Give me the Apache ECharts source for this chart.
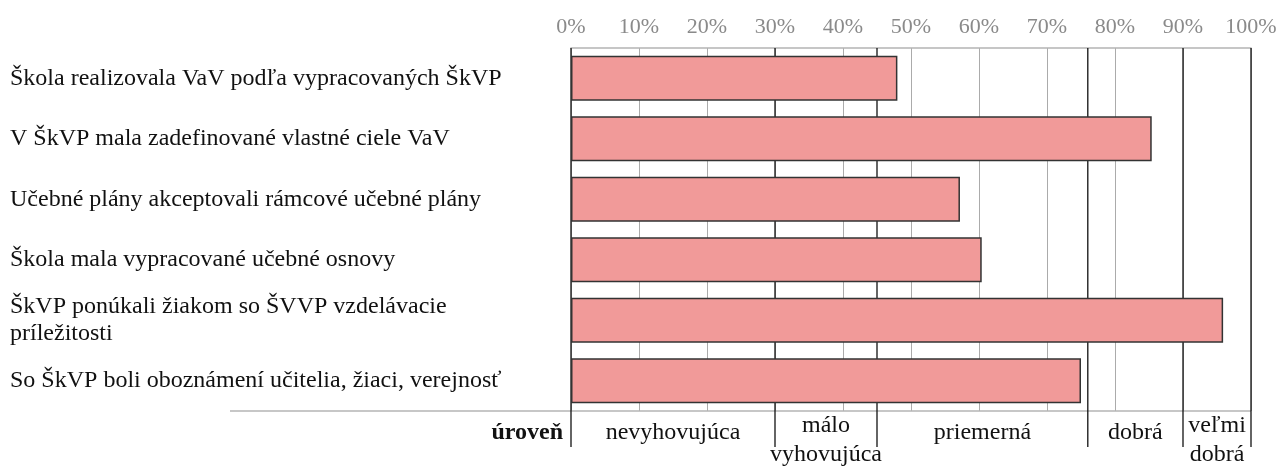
<!DOCTYPE html>
<html>
<head>
<meta charset="utf-8">
<script src="https://cdn.jsdelivr.net/npm/echarts@6/dist/echarts.min.js"></script>
<style>
  html, body { margin: 0; padding: 0; background: #fff; }
  #chart { width: 1280px; height: 466px; }
</style>
</head>
<body>
<div id="chart"></div>
<script>
// Criteria of the school programme (ŠkVP) and the share fulfilled, in %
const categories = [
  'Škola realizovala VaV podľa vypracovaných ŠkVP',
  'V ŠkVP mala zadefinované vlastné ciele VaV',
  'Učebné plány akceptovali rámcové učebné plány',
  'Škola mala vypracované učebné osnovy',
  'ŠkVP ponúkali žiakom so ŠVVP vzdelávacie\npríležitosti',
  'So ŠkVP boli oboznámení učitelia, žiaci, verejnosť'
];
const shares = [48, 85.4, 57.2, 60.4, 95.9, 75];

// Percentage scale of the top axis
const axisMin = 0;
const axisMax = 100;
const axisStep = 10;
const tickSuffix = '%';

// Rating levels: band boundaries (in %) and their names
const levelBounds = [0, 30, 45, 76, 90, 100];
const levelNames = ['nevyhovujúca', 'málo\nvyhovujúca', 'priemerná', 'dobrá', 'veľmi\ndobrá'];
const levelTitle = 'úroveň';

const FONT = "'Liberation Serif', 'DejaVu Serif', serif";
const FS = 24;       // category and level labels
const FS_TICK = 22;  // percentage ticks

const levelData = levelNames.map((n, i) => [levelBounds[i], levelBounds[i + 1], 0]);

function renderLevel(params, api) {
  const cs = params.coordSys;
  const i = params.dataIndex;
  const x0 = api.coord([api.value(0), 0])[0];
  const x1 = api.coord([api.value(1), 0])[0];
  const top = cs.y;
  const bottom = cs.y + cs.height;
  const black = { stroke: '#111', lineWidth: 1.3 };
  const children = [];

  if (i === 0) {
    // baseline under the categories, running under the labels too
    children.push({
      type: 'line', z2: 1,
      shape: { x1: 230, y1: bottom, x2: cs.x + cs.width, y2: bottom },
      style: { stroke: '#b4b4b4', lineWidth: 1.6 }
    });
    children.push({
      type: 'text',
      style: {
        text: levelTitle, x: cs.x - 8, y: bottom + 22,
        align: 'right', verticalAlign: 'middle',
        fontFamily: FONT, fontSize: FS, fontWeight: 'bold', fill: '#111'
      }
    });
  }
  children.push({
    type: 'line', z2: 2,
    shape: { x1: x0, y1: top, x2: x0, y2: bottom + 36 },
    style: black
  });
  if (i === levelNames.length - 1) {
    children.push({
      type: 'line', z2: 2,
      shape: { x1: x1, y1: top, x2: x1, y2: bottom + 36 },
      style: black
    });
  }
  const name = levelNames[i];
  const multi = name.indexOf('\n') >= 0;
  children.push({
    type: 'text',
    style: {
      text: name, x: (x0 + x1) / 2, y: bottom + (multi ? 29.5 : 22),
      align: 'center', verticalAlign: 'middle', lineHeight: 29,
      fontFamily: FONT, fontSize: FS, fill: '#111'
    }
  });
  return { type: 'group', children };
}

const chart = echarts.init(document.getElementById('chart'), null, { renderer: 'canvas' });
chart.setOption({
  animation: false,
  backgroundColor: '#fff',
  grid: { left: 571, right: 29, top: 48, height: 363 },
  xAxis: {
    type: 'value',
    position: 'top',
    min: axisMin, max: axisMax, interval: axisStep,
    axisLine: { show: true, lineStyle: { color: '#b4b4b4', width: 1.6 } },
    axisTick: { show: false },
    axisLabel: {
      formatter: '{value}' + tickSuffix,
      color: '#8a8a8a', fontFamily: FONT, fontSize: FS_TICK, margin: 10
    },
    splitLine: { show: true, lineStyle: { color: '#ababab', width: 1 } }
  },
  yAxis: {
    type: 'category',
    inverse: true,
    data: categories,
    axisLine: { show: false },
    axisTick: { show: false },
    axisLabel: {
      align: 'left', margin: 561, lineHeight: 27,
      color: '#111', fontFamily: FONT, fontSize: FS
    }
  },
  series: [
    {
      type: 'custom',
      z: 1,
      silent: true,
      encode: { x: [0, 1], y: 2 },
      data: levelData,
      renderItem: renderLevel
    },
    {
      type: 'bar',
      z: 3,
      data: shares,
      barCategoryGap: '26%',
      itemStyle: { color: '#f19a99', borderColor: '#333', borderWidth: 1.5 }
    }
  ]
});
</script>
</body>
</html>
